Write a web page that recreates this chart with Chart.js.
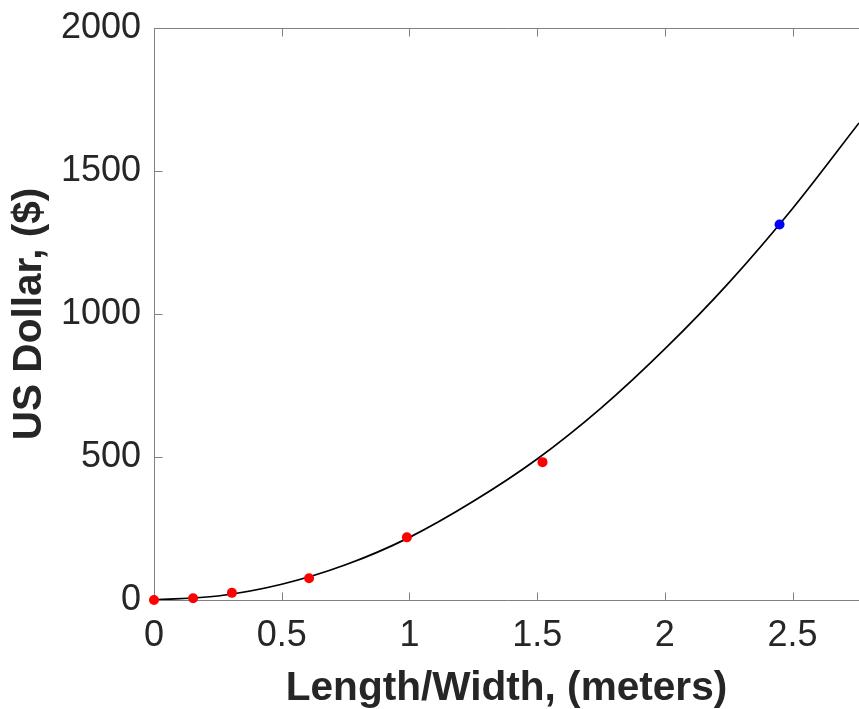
<!DOCTYPE html>
<html>
<head>
<meta charset="utf-8">
<script src="https://cdn.jsdelivr.net/npm/chart.js@4.4.1/dist/chart.umd.min.js"></script>
<style>
  html, body { margin: 0; padding: 0; background: #fff; overflow: hidden; }
</style>
</head>
<body>
<canvas id="cost-chart" width="859" height="709"></canvas>
<script>
// measured sizes / costs (red dots)
const sizeMeters = [0, 0.153, 0.305, 0.607, 0.99, 1.521];
const costUsd = [0, 6, 25, 76, 219, 482];
// predicted point (blue)
const predSize = [2.449];
const predCost = [1313];
// fitted curve
const fitSize = [0, 0.25, 0.5, 0.75, 1, 1.25, 1.5, 1.75, 2, 2.25, 2.5, 2.76];
const fitCost = [0, 14, 55, 123, 219, 345, 493, 671, 878, 1109, 1369, 1668];
// tick labels
const xTicks = [0, 0.5, 1, 1.5, 2, 2.5];
const yTicks = [0, 500, 1000, 1500, 2000];

const textColor = "#262626";
const axisColor = "#808080";
Chart.defaults.font.family = "'Liberation Sans', Arial, Helvetica, sans-serif";
Chart.defaults.color = textColor;

function toPoints(xs, ys) {
    return xs.map((v, i) => ({ x: v, y: ys[i] }));
}

// keep the plot box where the layout padding puts it
function noLabelPadding(s) {
    s.paddingTop = 0;
    s.paddingBottom = 0;
    s.paddingLeft = 0;
    s.paddingRight = 0;
}

// matlab-like box: left, bottom and top lines with inward ticks
const axisBox = {
    id: "axisBox",
    beforeDatasetsDraw(chart) {
        const { ctx, chartArea: a, scales: { x, y } } = chart;
        const L = Math.round(a.left) + 0.5;
        const T = Math.round(a.top) + 0.5;
        const B = Math.round(a.bottom) + 0.5;
        const R = a.right + 1;
        const tick = 8;
        ctx.save();
        ctx.strokeStyle = axisColor;
        ctx.lineWidth = 1;
        ctx.beginPath();
        ctx.moveTo(R, T); ctx.lineTo(L, T); ctx.lineTo(L, B); ctx.lineTo(R, B);
        x.ticks.forEach(t => {
            const px = Math.round(x.getPixelForValue(t.value)) + 0.5;
            ctx.moveTo(px, B); ctx.lineTo(px, B - tick);
            ctx.moveTo(px, T); ctx.lineTo(px, T + tick);
        });
        y.ticks.forEach(t => {
            const py = Math.round(y.getPixelForValue(t.value)) + 0.5;
            ctx.moveTo(L, py); ctx.lineTo(L + tick, py);
        });
        ctx.stroke();
        ctx.restore();
    }
};

new Chart(document.getElementById("cost-chart"), {
    type: "scatter",
    data: {
        datasets: [
            {
                label: "Measured",
                data: toPoints(sizeMeters, costUsd),
                backgroundColor: "#ff0000",
                borderWidth: 0,
                pointRadius: 5,
                clip: false,
                order: 1
            },
            {
                label: "Predicted",
                data: toPoints(predSize, predCost),
                backgroundColor: "#0000ff",
                borderWidth: 0,
                pointRadius: 5,
                clip: false,
                order: 0
            },
            {
                label: "Fit",
                data: toPoints(fitSize, fitCost),
                showLine: true,
                borderColor: "#000000",
                borderWidth: 1.7,
                pointRadius: 0,
                cubicInterpolationMode: "monotone",
                order: 2
            }
        ]
    },
    options: {
        responsive: false,
        animation: false,
        events: [],
        layout: { autoPadding: false, padding: { top: 28, right: 0, left: 0, bottom: 0 } },
        plugins: { legend: { display: false }, tooltip: { enabled: false } },
        scales: {
            x: {
                type: "linear",
                min: 0,
                max: 2.76,
                afterFit: s => { s.height = 109; noLabelPadding(s); },
                afterBuildTicks: s => { s.ticks = xTicks.map(v => ({ value: v })); },
                grid: { display: false, drawTicks: false },
                border: { display: false },
                ticks: {
                    font: { size: 36 },
                    color: textColor,
                    padding: 14,
                    maxRotation: 0,
                    autoSkip: false,
                    callback: v => String(v)
                },
                title: {
                    display: true,
                    text: "Length/Width, (meters)",
                    color: textColor,
                    font: { size: 40.6, weight: "bold", lineHeight: 1 },
                    padding: { top: 0, bottom: 0 }
                }
            },
            y: {
                type: "linear",
                min: 0,
                max: 2000,
                afterFit: s => { s.width = 154; noLabelPadding(s); },
                afterBuildTicks: s => { s.ticks = yTicks.map(v => ({ value: v })); },
                grid: { display: false, drawTicks: false },
                border: { display: false },
                ticks: {
                    font: { size: 36 },
                    color: textColor,
                    padding: 13,
                    autoSkip: false,
                    callback: v => String(v)
                },
                title: {
                    display: true,
                    text: "US Dollar, ($)",
                    color: textColor,
                    font: { size: 40.6, weight: "bold", lineHeight: 1 },
                    padding: { top: 10, bottom: 0 }
                }
            }
        }
    },
    plugins: [axisBox]
});
</script>
</body>
</html>
